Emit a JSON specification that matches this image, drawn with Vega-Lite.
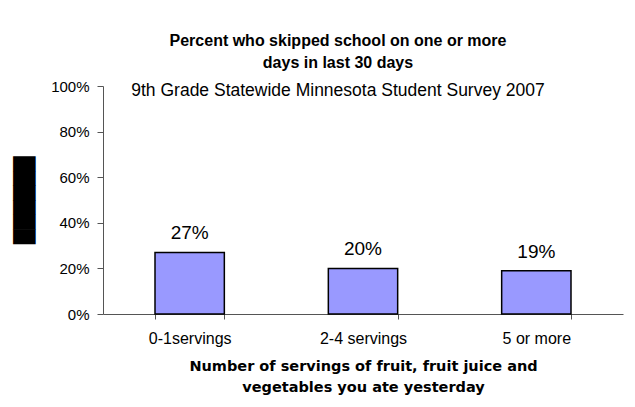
{
  "$schema": "https://vega.github.io/schema/vega-lite/v6.json",
  "width": 520,
  "height": 228,
  "autosize": {"type": "none"},
  "padding": {"left": 103, "top": 86, "right": 12, "bottom": 93},
  "background": "white",
  "config": {
    "view": {"stroke": null},
    "font": "Liberation Sans"
  },
  "title": {
    "text": ["Percent who skipped school on one or more", "days in last 30 days"],
    "subtitle": "9th Grade Statewide Minnesota Student Survey 2007",
    "anchor": "middle",
    "frame": "group",
    "dx": -25,
    "offset": -20,
    "font": "Liberation Sans",
    "fontSize": 16,
    "fontWeight": "bold",
    "color": "black",
    "lineHeight": 22,
    "subtitleFont": "Liberation Sans",
    "subtitleFontSize": 17.5,
    "subtitleColor": "black",
    "subtitlePadding": 11
  },
  "data": {
    "values": [
      {"servings": "0-1servings", "pct": 0.27},
      {"servings": "2-4 servings", "pct": 0.20},
      {"servings": "5 or more", "pct": 0.19}
    ]
  },
  "encoding": {
    "x": {
      "field": "servings",
      "type": "nominal",
      "sort": null,
      "scale": {"paddingInner": 0.6, "paddingOuter": 0.3},
      "axis": {
        "title": ["Number of servings of fruit, fruit juice and", "vegetables you ate yesterday"],
        "titleFont": "DejaVu Sans",
        "titleFontSize": 14.5,
        "titleFontWeight": "bold",
        "titleColor": "black",
        "titleLineHeight": 21,
        "titlePadding": 13,
        "labelAngle": 0,
        "labelFontSize": 16,
        "labelColor": "black",
        "labelPadding": 11,
        "tickBand": "extent",
        "tickSize": 5,
        "tickColor": "#555",
        "domainColor": "#555",
        "grid": false
      }
    },
    "y": {
      "field": "pct",
      "type": "quantitative",
      "scale": {"domain": [0, 1]},
      "axis": {
        "values": [0, 0.2, 0.4, 0.6, 0.8, 1],
        "format": ".0%",
        "title": "██████",
        "titleFont": "DejaVu Sans",
        "titleFontSize": 19,
        "titleFontWeight": "normal",
        "titleColor": "black",
        "titlePadding": 16,
        "labelFontSize": 15,
        "labelColor": "black",
        "labelPadding": 8,
        "tickSize": 6,
        "tickColor": "#555",
        "domainColor": "#555",
        "grid": false
      }
    }
  },
  "layer": [
    {
      "mark": {"type": "bar", "color": "#9999FF", "stroke": "black", "strokeWidth": 1.5}
    },
    {
      "mark": {"type": "text", "baseline": "bottom", "dy": -9, "fontSize": 19, "color": "black"},
      "encoding": {
        "text": {"field": "pct", "type": "quantitative", "format": ".0%"}
      }
    }
  ]
}
